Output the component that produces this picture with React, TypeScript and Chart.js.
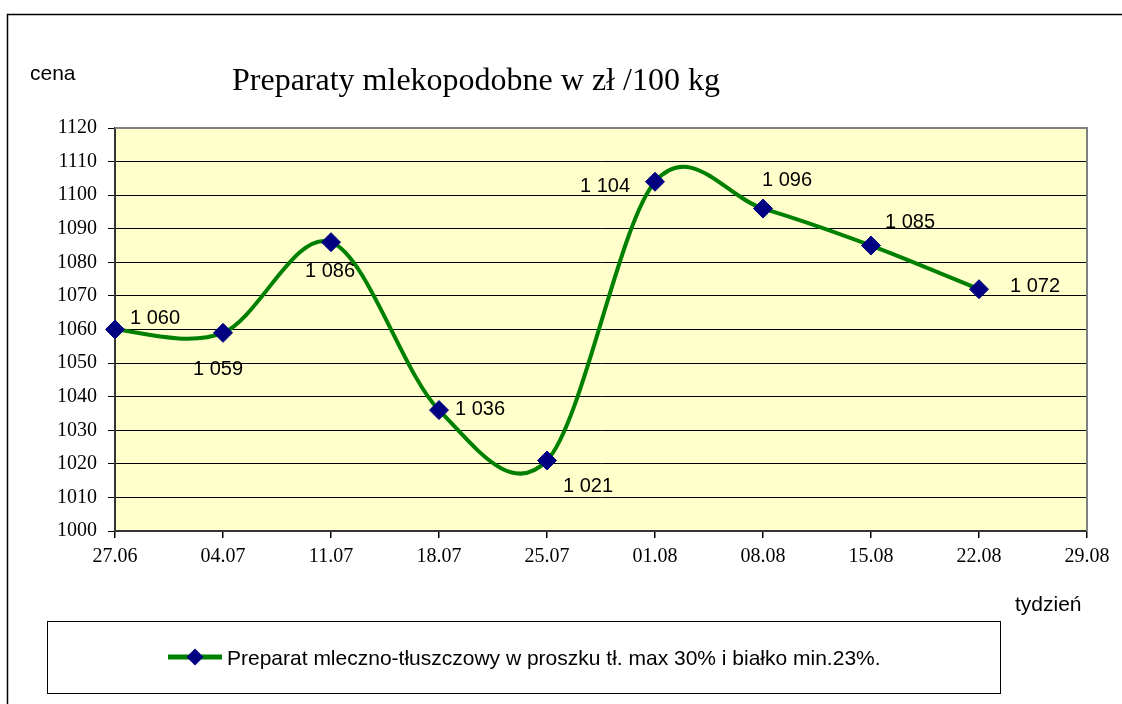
import React, { useEffect, useRef } from "react";
import { Chart, registerables } from "chart.js";

Chart.register(...registerables);

const categories = ["27.06", "04.07", "11.07", "18.07", "25.07", "01.08", "08.08", "15.08", "22.08", "29.08"];
const prices = [1060, 1059, 1086, 1036, 1021, 1104, 1096, 1085, 1072];
const seriesLabel = "Preparat mleczno-tłuszczowy w proszku tł. max 30% i białko min.23%.";
const titleText = "Preparaty mlekopodobne w zł /100 kg";
const yAxisTitle = "cena";
const xAxisTitle = "tydzień";
const yMin = 1000;
const yMax = 1120;
const yStep = 10;

// label placement offsets (left edge dx, baseline dy) relative to each point
const labelOffsets: [number, number][] = [
  [15, -6], [-30, 42], [-26, 35], [16, 4.5], [16, 32], [-75, 10.5], [-1, -23], [14, -18], [31, 3],
];

const SANS = "'Liberation Sans', Arial, sans-serif";
const SERIF = "'Liberation Serif', 'Times New Roman', serif";
const LINE_COLOR = "#008000";
const MARKER_COLOR = "#000080";

function formatPL(v: number): string {
  return String(v).replace(/\B(?=(\d{3})+(?!\d))/g, " ");
}

const decorPlugin = {
  id: "decor",
  beforeDraw(chart: any) {
    const { ctx, chartArea: a } = chart;
    ctx.save();
    ctx.fillStyle = "#ffffff";
    ctx.fillRect(0, 0, chart.width, chart.height);
    ctx.fillStyle = "#FFFFCC";
    ctx.fillRect(a.left, a.top, a.right - a.left, a.bottom - a.top);
    ctx.strokeStyle = "#000";
    ctx.lineWidth = 1.5;
    ctx.strokeRect(7.5, 14.5, chart.width + 50, chart.height + 50);
    ctx.restore();
  },
  beforeDatasetsDraw(chart: any) {
    const { ctx, chartArea: a } = chart;
    ctx.save();
    ctx.strokeStyle = "#808080";
    ctx.lineWidth = 2;
    ctx.beginPath();
    ctx.moveTo(a.left, a.top);
    ctx.lineTo(a.right, a.top);
    ctx.lineTo(a.right, a.bottom);
    ctx.stroke();
    ctx.restore();
  },
  beforeDatasetDraw(chart: any, args: any) {
    const meta = args.meta;
    const line = meta.dataset;
    if (!line) return;
    line.updateControlPoints(chart.chartArea, meta.iScale.axis);
    const pts = meta.data.filter((p: any) => !p.skip);
    for (let i = 0; i < pts.length; i++) {
      const p = pts[i];
      const prev = pts[i - 1] || p;
      const next = pts[i + 1] || p;
      const tx = (next.x - prev.x) / 6;
      const ty = (next.y - prev.y) / 6;
      p.cp1x = p.x - tx;
      p.cp1y = p.y - ty;
      p.cp2x = p.x + tx;
      p.cp2y = p.y + ty;
    }
    line._path = undefined;
  },
  afterDatasetsDraw(chart: any) {
    const { ctx } = chart;
    const meta = chart.getDatasetMeta(0);
    const data = chart.data.datasets[0].data as number[];
    ctx.save();
    ctx.fillStyle = "#000";
    ctx.font = `20px ${SANS}`;
    ctx.textAlign = "left";
    ctx.textBaseline = "alphabetic";
    meta.data.forEach((p: any, i: number) => {
      const off = labelOffsets[i] || [8, -8];
      ctx.fillText(formatPL(data[i]), p.x + off[0], p.y + off[1]);
    });
    ctx.restore();
  },
  afterDraw(chart: any) {
    const { ctx } = chart;
    ctx.save();
    ctx.fillStyle = "#000";
    ctx.textAlign = "left";
    ctx.textBaseline = "alphabetic";
    ctx.font = `32px ${SERIF}`;
    ctx.fillText(titleText, 232, 90);
    ctx.font = `21px ${SANS}`;
    ctx.fillText(yAxisTitle, 30, 80);
    ctx.fillText(xAxisTitle, 1015, 611);
    // legend
    ctx.strokeStyle = "#000";
    ctx.lineWidth = 1;
    ctx.strokeRect(47.5, 621.5, 953, 72);
    ctx.strokeStyle = LINE_COLOR;
    ctx.lineWidth = 5;
    ctx.beginPath();
    ctx.moveTo(168, 657);
    ctx.lineTo(222, 657);
    ctx.stroke();
    ctx.fillStyle = MARKER_COLOR;
    ctx.beginPath();
    ctx.moveTo(195, 648.5);
    ctx.lineTo(203.5, 657);
    ctx.lineTo(195, 665.5);
    ctx.lineTo(186.5, 657);
    ctx.closePath();
    ctx.fill();
    ctx.fillStyle = "#000";
    ctx.font = `21px ${SANS}`;
    ctx.fillText(chart.data.datasets[0].label, 227, 665);
    ctx.restore();
  },
};

export default function App() {
  const canvasRef = useRef<HTMLCanvasElement | null>(null);

  useEffect(() => {
    const canvas = canvasRef.current;
    if (!canvas) return;
    const chart = new Chart(canvas, {
      type: "line",
      data: {
        labels: categories,
        datasets: [
          {
            label: seriesLabel,
            data: prices,
            borderColor: LINE_COLOR,
            borderWidth: 4,
            tension: 0.4,
            fill: false,
            pointStyle: "rectRot",
            pointRadius: 9.5,
            pointBorderWidth: 1,
            pointBackgroundColor: MARKER_COLOR,
            pointBorderColor: MARKER_COLOR,
          },
        ],
      },
      options: {
        animation: false,
        responsive: false,
        devicePixelRatio: 1,
        layout: { padding: { left: 55, top: 128, right: 35, bottom: 133 } },
        plugins: {
          legend: { display: false },
          title: { display: false },
          tooltip: { enabled: false },
        },
        scales: {
          x: {
            type: "category",
            offset: false,
            grid: { drawOnChartArea: false, drawTicks: true, tickLength: 7, color: "#000", lineWidth: 1.5 },
            border: { color: "#333", width: 2 },
            ticks: {
              font: { family: SERIF, size: 20 },
              color: "#000",
              padding: 7,
              maxRotation: 0,
              autoSkip: false,
            },
            afterFit: (s: any) => {
              s.height = 40;
            },
          },
          y: {
            type: "linear",
            min: yMin,
            max: yMax,
            grid: { color: "#000", lineWidth: 1, tickLength: 7 },
            border: { color: "#333", width: 2 },
            ticks: {
              stepSize: yStep,
              font: { family: SERIF, size: 20 },
              color: "#000",
              padding: 11,
              callback: (v: any) => String(v),
            },
            afterFit: (s: any) => {
              s.width = 60;
            },
          },
        },
      },
      plugins: [decorPlugin],
    });
    return () => chart.destroy();
  }, []);

  return (
    <div style={{ position: "fixed", left: 0, top: 0, width: 1122, height: 704, background: "#fff" }}>
      <canvas ref={canvasRef} width={1122} height={704} style={{ display: "block" }} />
    </div>
  );
}
